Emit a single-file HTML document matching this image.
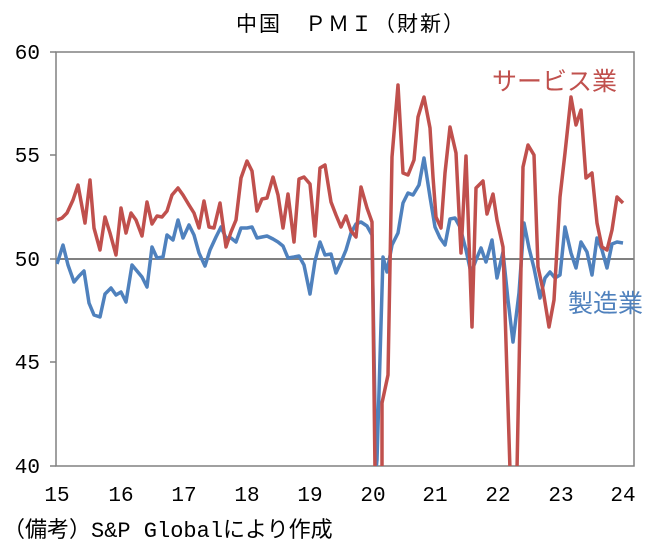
<!DOCTYPE html>
<html><head><meta charset="utf-8"><style>
body{margin:0;background:#fff;width:650px;height:546px;overflow:hidden;font-family:"Liberation Sans","Noto Sans CJK JP",sans-serif}
</style></head><body>
<svg width="650" height="546" xmlns="http://www.w3.org/2000/svg" font-family="'Liberation Sans','Noto Sans CJK JP',sans-serif">
<text x="351" y="31" font-size="21" letter-spacing="2" text-anchor="middle" fill="#000">中国　ＰＭＩ（財新）</text>
<defs><clipPath id="c"><rect x="56" y="52" width="578" height="414"/></clipPath></defs>
<line x1="56" y1="259" x2="634" y2="259" stroke="#808080" stroke-width="2"/>
<rect x="56" y="52" width="578" height="414" fill="none" stroke="#808080" stroke-width="1.5"/>
<g stroke="#808080" stroke-width="1.5">
<line x1="50" y1="52" x2="56" y2="52"/><line x1="50" y1="155" x2="56" y2="155"/><line x1="50" y1="259" x2="56" y2="259"/><line x1="50" y1="362" x2="56" y2="362"/><line x1="50" y1="466" x2="56" y2="466"/>
</g>
<g font-size="21" text-anchor="end" fill="#000" font-family="'Liberation Mono',monospace">
<text x="40" y="59">60</text><text x="40" y="162">55</text><text x="40" y="266">50</text><text x="40" y="369">45</text><text x="40" y="473">40</text>
</g>
<g font-size="21" text-anchor="middle" fill="#000" font-family="'Liberation Mono',monospace">
<text x="57" y="501">15</text><text x="121" y="501">16</text><text x="184" y="501">17</text><text x="247" y="501">18</text><text x="310" y="501">19</text><text x="373" y="501">20</text><text x="435" y="501">21</text><text x="498" y="501">22</text><text x="561" y="501">23</text><text x="623" y="501">24</text>
</g>
<g clip-path="url(#c)" fill="none" stroke-width="3.5" stroke-linejoin="round">
<polyline stroke="#4f81bd" points="57,264 63,245 68,265 74,282 79,276 84,271 89,303 94,315 100,317 105,294 111,288 116,295 121,292 126,302 132,265 137,271 142,277 147,287 152,247 157,258 163,257 167,235 173,240 178,220 183,238 189,225 194,235 199,253 205,266 210,250 216,237 221,227 226,238 231,238 236,242 241,228 247,228 252,227 257,238 262,237 267,236 273,239 278,242 283,246 288,258 294,257 299,256 304,265 310,294 315,261 320,242 325,255 331,254 336,273 341,262 346,250 351,233 356,224 361,222 367,226 372,235 376,470 377,460 383,257 387,272 392,245 398,233 403,203 408,193 413,195 419,185 424,158 430,197 435,227 440,238 445,245 450,219 455,218 460,227 466,250 471,273 476,260 481,248 486,262 492,240 497,278 503,252 508,300 513,342 519,293 524,223 529,248 534,268 540,298 545,278 550,272 555,278 560,275 565,227 571,253 576,268 581,242 587,252 592,275 597,238 602,250 607,268 612,244 617,242 623,243"/>
<polyline stroke="#c0504d" points="57,220 62,218 67,213 73,200 78,185 85,223 90,180 94,228 100,250 105,217 110,233 116,255 121,208 126,233 131,213 136,220 142,236 147,202 152,224 157,216 162,217 167,211 172,195 178,188 183,195 189,205 194,213 199,228 204,201 209,227 214,228 220,203 226,247 231,232 236,220 241,178 247,161 252,171 257,211 262,199 267,198 273,177 278,195 283,228 288,194 294,242 299,179 304,177 310,184 315,236 320,168 325,165 331,202 336,215 341,227 346,216 351,231 356,237 361,187 367,208 372,222 375,470 382,470 382,403 388,375 392,157 398,85 403,173 408,175 414,160 418,117 424,97 430,128 433,177 436,217 441,228 445,173 450,127 456,153 461,253 466,156 472,327 476,188 483,181 487,214 493,194 497,220 503,247 510,470 517,470 523,167 528,145 534,155 538,267 543,290 549,327 554,300 560,197 565,153 571,97 576,125 581,110 586,178 592,173 597,223 602,247 607,250 612,230 617,197 623,203"/>
</g>
<text x="492" y="90" font-size="25" fill="#c0504d">サービス業</text>
<text x="568" y="312" font-size="25" fill="#4f81bd">製造業</text>
<text x="3" y="537" font-size="22" fill="#000" font-family="'Liberation Mono','Noto Sans CJK JP',monospace">（備考）S&amp;P Globalにより作成</text>
</svg>
</body></html>
